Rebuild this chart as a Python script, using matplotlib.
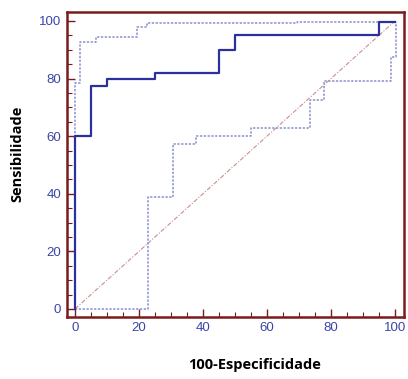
import matplotlib
matplotlib.use("Agg")
import matplotlib.pyplot as plt
from matplotlib.ticker import MultipleLocator

# ROC curve (step points) and confidence bounds
roc_x = [0, 0, 5, 5, 10, 10, 25, 25, 45, 45, 50, 50, 95, 95, 100]
roc_y = [0, 60, 60, 77.5, 77.5, 80, 80, 82, 82, 90, 90, 95.2, 95.2, 99.8, 99.8]

upper_x = [0, 0, 1.5, 1.5, 6.5, 6.5, 19.5, 19.5, 22.5, 22.5, 69.5, 69.5, 100]
upper_y = [0, 78.5, 78.5, 92.6, 92.6, 94.3, 94.3, 98, 98, 99.2, 99.2, 99.8, 99.8]

lower_x = [0, 22.7, 22.7, 30.7, 30.7, 37.8, 37.8, 55, 55, 73.4, 73.4, 77.9, 77.9,
           98.7, 98.7, 100.2, 100.2]
lower_y = [0, 0, 39, 39, 57.2, 57.2, 60.1, 60.1, 63, 63, 72.6, 72.6, 79.3, 79.3,
           87.6, 87.6, 99.8]

diag = [0, 100]
ticks = [0, 20, 40, 60, 80, 100]

frame_col = '#7a1c1c'
label_col = '#3a45a8'

fig = plt.figure(figsize=(4.08, 3.79), dpi=100)
ax = fig.add_axes([0.1635, 0.1644, 0.8265, 0.803])

ax.plot(diag, diag, color='#c99090', lw=0.8, linestyle=(0, (4, 1.5, 1, 1.5)))
ax.plot(upper_x, upper_y, color='#8a8fd0', lw=1.1, linestyle=(0, (1.5, 1)))
ax.plot(lower_x, lower_y, color='#8a8fd0', lw=1.1, linestyle=(0, (1.5, 1)))
ax.plot(roc_x, roc_y, color='#2b309e', lw=1.6)

ax.set_xlim(-2.6, 102.8)
ax.set_ylim(-2.7, 103)
ax.set_xticks(ticks)
ax.set_yticks(ticks)
ax.xaxis.set_minor_locator(MultipleLocator(5))
ax.yaxis.set_minor_locator(MultipleLocator(5))

for s in ax.spines.values():
    s.set_color(frame_col)
    s.set_linewidth(1.8)

ax.tick_params(which='both', direction='in', color=frame_col, top=False, right=False)
ax.tick_params(which='major', length=6, width=1.0, pad=4,
               labelcolor=label_col, labelsize=9.5)
ax.tick_params(which='minor', length=3.5, width=0.8)
for lab in ax.get_xticklabels() + ax.get_yticklabels():
    lab.set_family('Liberation Sans')

fig.text(0.625, 0.018, '100-Especificidade', fontsize=10.5, fontweight='bold',
         family='Open Sans', ha='center', va='bottom')
fig.text(0.042, 0.594, 'Sensibilidade', fontsize=10.5, fontweight='bold',
         family='Open Sans', rotation=90, ha='center', va='center')

fig.savefig('out.png', dpi=100)
